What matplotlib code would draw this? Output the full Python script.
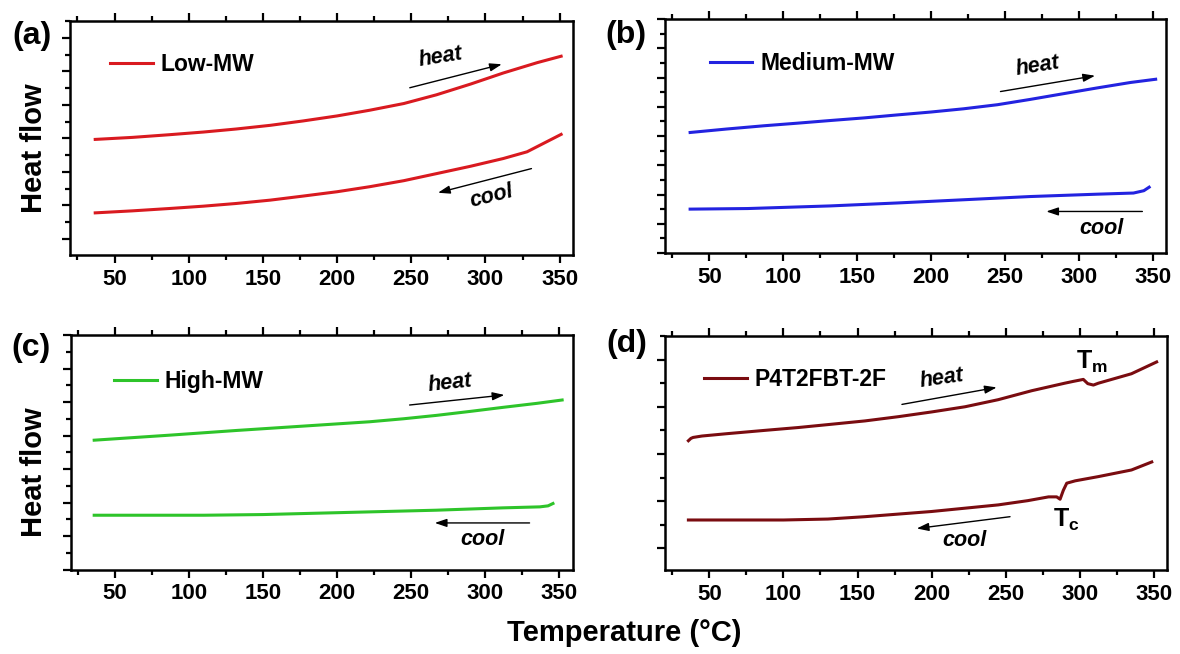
import matplotlib
matplotlib.use("Agg")
import matplotlib.pyplot as plt
from matplotlib.ticker import MultipleLocator, NullFormatter

plt.rcParams['font.family'] = ['Liberation Sans', 'DejaVu Sans']
plt.rcParams['font.weight'] = 'bold'
plt.rcParams['mathtext.fontset'] = 'custom'
plt.rcParams['mathtext.bf'] = 'Liberation Sans:bold'
plt.rcParams['mathtext.rm'] = 'Liberation Sans:bold'

W, H = 1180, 654

# ---- DSC traces (heat flow in arbitrary offset units) ----
low_heat_T = [37, 62, 87, 110, 132, 155, 177, 200, 222, 245, 267, 290, 312, 335, 351]
low_heat_hf = [3.97, 4.03, 4.11, 4.19, 4.28, 4.39, 4.52, 4.67, 4.84, 5.04, 5.30, 5.62, 5.95, 6.26, 6.45]
low_cool_T = [37, 62, 87, 110, 132, 155, 177, 200, 222, 245, 267, 290, 312, 328, 351]
low_cool_hf = [1.78, 1.84, 1.91, 1.98, 2.06, 2.16, 2.28, 2.41, 2.56, 2.74, 2.95, 3.17, 3.40, 3.60, 4.12]

med_heat_T = [37, 62, 87, 110, 132, 155, 177, 200, 222, 245, 267, 290, 312, 335, 352]
med_heat_hf = [4.12, 4.24, 4.35, 4.44, 4.53, 4.62, 4.72, 4.82, 4.93, 5.07, 5.25, 5.45, 5.64, 5.83, 5.94]
med_cool_T = [37, 76, 132, 177, 222, 267, 312, 337, 344, 347.6]
med_cool_hf = [1.50, 1.52, 1.61, 1.71, 1.82, 1.93, 2.01, 2.05, 2.13, 2.25]

high_heat_T = [36, 87, 132, 177, 222, 245, 267, 290, 312, 335, 352]
high_heat_hf = [3.86, 4.01, 4.15, 4.28, 4.41, 4.50, 4.60, 4.72, 4.84, 4.96, 5.06]
high_cool_T = [36, 110, 150, 177, 222, 267, 312, 337, 342.5, 345.8]
high_cool_hf = [1.62, 1.62, 1.64, 1.67, 1.72, 1.77, 1.84, 1.87, 1.90, 1.97]

p4_heat_T = [35.8, 37.5, 39, 45, 62, 87.5, 110, 132.6, 155, 177.6, 200, 222.6, 245, 267.6,
             290, 296, 302.5, 305.5, 309.3, 312.7, 335, 352]
p4_heat_hf = [3.28, 3.33, 3.35, 3.38, 3.43, 3.50, 3.56, 3.63, 3.70, 3.79, 3.89, 4.00, 4.15, 4.34,
              4.50, 4.54, 4.58, 4.49, 4.46, 4.50, 4.70, 4.95]
p4_cool_T = [35.8, 100, 130, 155, 200, 245, 265, 279, 284.5, 286.8, 289, 291.3, 297, 312.7, 335, 348.7]
p4_cool_hf = [1.60, 1.60, 1.62, 1.67, 1.78, 1.92, 2.01, 2.09, 2.09, 2.04, 2.23, 2.38, 2.43, 2.52, 2.66, 2.83]

names = ['Low-MW', 'Medium-MW', 'High-MW', 'P4T2FBT-2F']
colors = ['#d91a20', '#2323e0', '#2ec42a', '#7a0c10']
panel_tags = ['(a)', '(b)', '(c)', '(d)']
x_ticks = [50, 100, 150, 200, 250, 300, 350]


def rect(l, t, w, h):
    return [l / W, 1 - (t + h) / H, w / W, h / H]


fig = plt.figure(figsize=(W / 100, H / 100), dpi=100)

axes_px = [(70, 21, 503, 234), (665, 19, 501, 234),
           (70.5, 335, 502, 234.5), (665, 336, 502, 234)]
ylims = [(0.524, 7.5), (0.0, 8.0), (0.0, 7.0), (0.54, 5.5)]
legend_anchor = [(0.080, 0.815), (0.089, 0.811), (0.087, 0.800), (0.078, 0.812)]

traces = [
    (low_heat_T, low_heat_hf, low_cool_T, low_cool_hf),
    (med_heat_T, med_heat_hf, med_cool_T, med_cool_hf),
    (high_heat_T, high_heat_hf, high_cool_T, high_cool_hf),
    (p4_heat_T, p4_heat_hf, p4_cool_T, p4_cool_hf),
]

# arrow tail, arrow head, label position, label rotation
heat_marks = [
    ((249, 5.51), (311, 6.21), (270, 6.43), 9),
    ((247, 5.52), (311, 6.06), (272, 6.38), 9),
    ((249, 4.91), (313, 5.21), (276, 5.56), 6),
    ((180, 4.05), (244, 4.41), (207, 4.60), 8),
]
cool_marks = [
    ((331, 3.10), (268, 2.38), (304, 2.26), 14),
    ((343, 1.42), (278, 1.42), (315, 0.84), 0),
    ((330, 1.39), (266, 1.39), (298, 0.90), 0),
    ((253, 1.67), (190, 1.42), (222, 1.17), 0),
]

arrow_kw = dict(arrowstyle='-|>,head_length=0.65,head_width=0.22',
                color='black', lw=1.0, mutation_scale=11, shrinkA=0, shrinkB=0)
word_kw = dict(fontsize=15.5, fontstyle='italic', fontweight='bold',
               ha='center', va='center')

for i, ax_px in enumerate(axes_px):
    ax = fig.add_axes(rect(*ax_px))
    hT, hH, cT, cH = traces[i]
    ax.plot(hT, hH, color=colors[i], lw=2.2, label=names[i], solid_joinstyle='round')
    ax.plot(cT, cH, color=colors[i], lw=2.2, solid_joinstyle='round')

    ax.set_xlim(20, 359)
    ax.set_ylim(*ylims[i])
    ax.xaxis.set_minor_locator(MultipleLocator(25))
    ax.yaxis.set_major_locator(MultipleLocator(1))
    ax.yaxis.set_minor_locator(MultipleLocator(0.5))
    ax.yaxis.set_major_formatter(NullFormatter())
    ax.set_xticks(x_ticks)
    ax.set_xticklabels([str(v) for v in x_ticks], fontsize=16, fontweight='bold')

    for sp in ax.spines.values():
        sp.set_linewidth(1.8)
    ax.tick_params(axis='both', which='both', direction='out', width=1.6)
    ax.tick_params(axis='both', which='major', length=6)
    ax.tick_params(axis='both', which='minor', length=3.5)
    ax.tick_params(axis='x', which='both', top=True, labeltop=False, pad=4)
    ax.tick_params(axis='y', which='both', right=False)

    ax.legend(loc='center left', bbox_to_anchor=legend_anchor[i], frameon=False,
              handlelength=1.85, handletextpad=0.35, borderpad=0, borderaxespad=0,
              prop=dict(family='Liberation Sans', weight='bold', size=16.5))

    tail, head, lab, rot = heat_marks[i]
    ax.annotate('', xy=head, xytext=tail, arrowprops=arrow_kw)
    ax.text(*lab, 'heat', rotation=rot, **word_kw)
    tail, head, lab, rot = cool_marks[i]
    ax.annotate('', xy=head, xytext=tail, arrowprops=arrow_kw)
    ax.text(*lab, 'cool', rotation=rot, **word_kw)

    if i == 3:
        ax.text(308, 4.95, r'$\mathbf{T_m}$', fontsize=18, ha='center', va='center')
        ax.text(291, 1.60, r'$\mathbf{T_c}$', fontsize=18, ha='center', va='center')

# panel tags
tag_pos = [(32, 36), (626, 35), (31, 348), (627, 344)]
for tag, (x, y) in zip(panel_tags, tag_pos):
    fig.text(x / W, 1 - y / H, tag, fontsize=23, fontweight='bold', ha='center', va='center')

# shared axis titles
for (x, y) in [(34.5, 148), (33.5, 472)]:
    fig.text(x / W, 1 - y / H, 'Heat flow', fontsize=21, fontweight='bold',
             rotation=90, ha='center', va='center')
fig.text(624 / W, 1 - 633 / H, 'Temperature (°C)', fontsize=21, fontweight='bold',
         ha='center', va='center')

fig.savefig('out.png', dpi=100)
